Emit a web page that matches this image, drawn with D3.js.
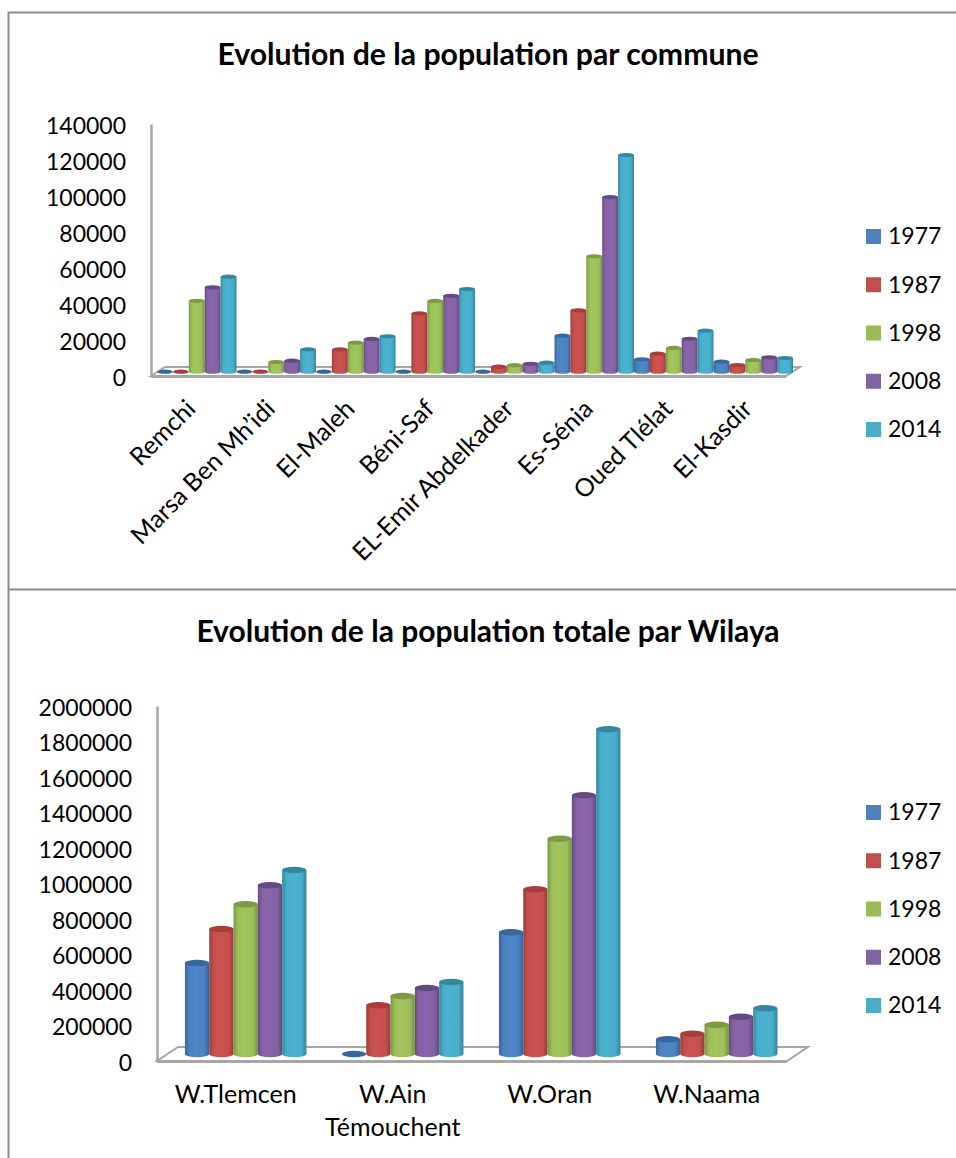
<!DOCTYPE html>
<html>
<head>
<meta charset="utf-8">
<script src="https://cdn.jsdelivr.net/npm/d3@7"></script>
<style>
    html, body { margin: 0; padding: 0; background: #fff; overflow: hidden; }
    svg { display: block; }
    text { font-family: Lato, sans-serif; fill: #000; }
</style>
</head>
<body>
<script>
// Values
const years = ["1977", "1987", "1998", "2008", "2014"];

const communes = ["Remchi", "Marsa Ben Mh’idi", "El-Maleh", "Béni-Saf", "EL-Emir Abdelkader", "Es-Sénia", "Oued Tlélat", "El-Kasdir"];
const commune1977 = [0, 0, 0, 0, 0, 20000, 6900, 5600];
const commune1987 = [0, 0, 12400, 32400, 2800, 34100, 10000, 3700];
const commune1998 = [39400, 5400, 16100, 39300, 3600, 64100, 13200, 6500];
const commune2008 = [46900, 6100, 18200, 42200, 4400, 97000, 18300, 8000];
const commune2014 = [52800, 12400, 19700, 45900, 5000, 120400, 22800, 7600];
const communeTicks = [0, 20000, 40000, 60000, 80000, 100000, 120000, 140000];

const wilayas = ["W.Tlemcen", "W.Ain Témouchent", "W.Oran", "W.Naama"];
const wilaya1977 = [512700, 0, 685600, 82800];
const wilaya1987 = [704000, 274400, 927900, 114400];
const wilaya1998 = [843400, 326800, 1213000, 165100];
const wilaya2008 = [950400, 371800, 1457500, 210100];
const wilaya2014 = [1036600, 405600, 1829300, 257500];
const wilayaTicks = [0, 200000, 400000, 600000, 800000, 1000000, 1200000, 1400000, 1600000, 1800000, 2000000];

// side, top and legend colours for each year
const sideColors = ["#4f86c8", "#cc5250", "#a2c65c", "#8966aa", "#4bb3d1"];
const topColors = ["#36689c", "#a63e3c", "#7f9a45", "#644a82", "#35879f"];
const legendColors = ["#4f81bd", "#c0504d", "#9bbb59", "#8064a2", "#4bacc6"];

const gray = "#a6a6a6";
const fontSize = 23;
const labelSize = 25;

const svg = d3.select("body").append("svg")
    .attr("width", 956)
    .attr("height", 1158);

// one horizontal gradient per year, dark at both edges like a cylinder
const defs = svg.append("defs");
years.forEach((year, i) => {
    const grad = defs.append("linearGradient").attr("id", "cyl" + i);
    const base = d3.color(sideColors[i]);
    grad.append("stop").attr("offset", "0%").attr("stop-color", base.darker(0.8));
    grad.append("stop").attr("offset", "18%").attr("stop-color", base.darker(0.1));
    grad.append("stop").attr("offset", "45%").attr("stop-color", base);
    grad.append("stop").attr("offset", "80%").attr("stop-color", base.darker(0.1));
    grad.append("stop").attr("offset", "100%").attr("stop-color", base.darker(0.9));
});

// Frame lines around the two charts
svg.append("path")
    .attr("d", "M956,12.5H8.5V1158M8.5,589.5H956")
    .attr("fill", "none")
    .attr("stroke", "#8c8c8c")
    .attr("stroke-width", 2);

function drawChart(opts) {
    const g = svg.append("g");

    g.append("text")
        .attr("x", opts.titleX)
        .attr("y", opts.titleY)
        .attr("text-anchor", "middle")
        .attr("font-size", opts.titleSize)
        .attr("font-weight", 700)
        .text(opts.title);

    const y = d3.scaleLinear().domain(opts.domain).range(opts.yRange);
    const x0 = d3.scaleBand().domain(opts.categories).range(opts.xRange).paddingInner(opts.padding).paddingOuter(opts.padding / 2);
    const x1 = d3.scaleBand().domain(years).range([0, x0.bandwidth()]);

    // floor of the 3D box
    const f = opts.floor;
    g.append("path")
        .attr("d", `M${f.frontLeft},${f.front}L${f.backLeft},${f.back}H${f.backRight}L${f.frontRight},${f.front}Z`)
        .attr("fill", "#fff")
        .attr("stroke", gray)
        .attr("stroke-width", 2);
    g.append("line")
        .attr("x1", f.frontLeft).attr("x2", f.frontRight)
        .attr("y1", f.front + 0.5).attr("y2", f.front + 0.5)
        .attr("stroke", gray)
        .attr("stroke-width", 3);

    // value axis
    const yAxis = g.append("g")
        .attr("transform", `translate(${opts.axisX},0)`)
        .call(d3.axisLeft(y).tickValues(opts.ticks).tickFormat(d3.format("d")).tickSize(0).tickPadding(25));
    yAxis.select(".domain").attr("stroke", gray).attr("stroke-width", 2.5);
    yAxis.selectAll("text")
        .attr("font-size", fontSize)
        .attr("font-family", "Lato, sans-serif")
        .attr("dy", opts.tickDy);

    // category axis, only its labels show
    const xAxis = g.append("g")
        .attr("transform", `translate(0,${opts.labelY})`)
        .call(d3.axisBottom(x0).tickSize(0).tickPadding(0));
    xAxis.select(".domain").remove();
    xAxis.selectAll("text").attr("font-size", labelSize).attr("font-family", "Lato, sans-serif");
    opts.styleLabels(xAxis.selectAll("text"));

    // cylinders, drawn left to right
    const rx = x1.bandwidth() / 2;
    const ry = opts.ry;
    const base = y(0) - opts.depth;

    const rows = [];
    opts.categories.forEach((cat, c) => {
        opts.series.forEach((vals, s) => {
            rows.push({ cat, year: years[s], s, value: vals[c] });
        });
    });

    const bars = g.selectAll(".bar")
        .data(rows)
        .enter().append("g")
        .attr("class", "bar")
        .attr("transform", d => `translate(${x0(d.cat) + x1(d.year) + rx},0)`);

    bars.filter(d => d.value > 0).append("path")
        .attr("d", d => {
            const top = y(d.value) - opts.depth;
            return `M${-rx},${top}V${base}A${rx},${ry} 0 0 0 ${rx},${base}V${top}Z`;
        })
        .attr("fill", d => `url(#cyl${d.s})`);

    bars.append("ellipse")
        .attr("cy", d => y(d.value) - opts.depth)
        .attr("rx", rx)
        .attr("ry", ry)
        .attr("fill", d => topColors[d.s]);

    // legend
    const legend = g.selectAll(".legend")
        .data(years)
        .enter().append("g")
        .attr("class", "legend")
        .attr("transform", (d, i) => `translate(866,${opts.legendY + i * 48.25})`);
    legend.append("rect")
        .attr("width", 15)
        .attr("height", 15)
        .attr("fill", (d, i) => legendColors[i]);
    legend.append("text")
        .attr("x", 22)
        .attr("y", 7.5)
        .attr("dy", "0.34em")
        .attr("font-size", fontSize)
        .text(d => d);
}

drawChart({
    title: "Evolution de la population par commune",
    titleX: 488, titleY: 65, titleSize: 30.2,
    categories: communes,
    series: [commune1977, commune1987, commune1998, commune2008, commune2014],
    ticks: communeTicks,
    tickDy: "9.8px",
    domain: [0, 140000],
    yRange: [376, 124],
    xRange: [157, 793],
    padding: 0,
    depth: 4.3,
    ry: 2.1,
    axisX: 151,
    floor: { frontLeft: 151, front: 376, backLeft: 165, back: 367, backRight: 800, frontRight: 786 },
    labelY: 392,
    legendY: 229,
    styleLabels: labels => labels
        .attr("text-anchor", "end")
        .attr("dy", "0.5em")
        .attr("transform", "translate(-8.5,9.5) rotate(-45)")
});

drawChart({
    title: "Evolution de la population totale par Wilaya",
    titleX: 488, titleY: 642, titleSize: 30,
    categories: wilayas,
    series: [wilaya1977, wilaya1987, wilaya1998, wilaya2008, wilaya2014],
    ticks: wilayaTicks,
    tickDy: "9.3px",
    domain: [0, 2000000],
    yRange: [1061, 706],
    xRange: [167.2, 795.2],
    padding: 0.226,
    depth: 7,
    ry: 3.2,
    axisX: 157,
    floor: { frontLeft: 157, front: 1061, backLeft: 178, back: 1047, backRight: 808, frontRight: 787 },
    labelY: 1085.5,
    legendY: 805,
    styleLabels: labels => labels.each(function(d) {
        // long category names wrap on two lines
        const words = d.split(" ");
        const label = d3.select(this).text(null).attr("transform", "translate(-10,0)");
        words.forEach((word, i) => {
            label.append("tspan")
                .attr("x", 0)
                .attr("dy", i === 0 ? "0.71em" : "33px")
                .text(word);
        });
    })
});
</script>
</body>
</html>
